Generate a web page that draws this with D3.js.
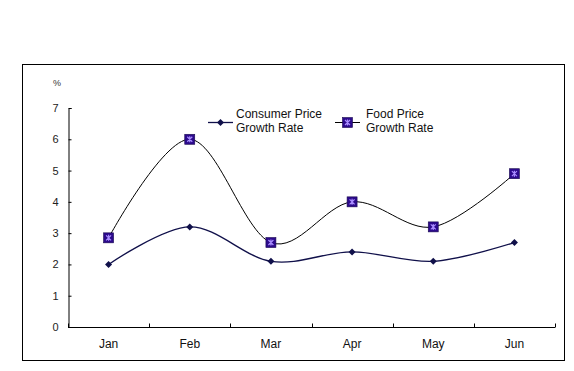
<!DOCTYPE html>
<html>
<head>
<meta charset="utf-8">
<script src="https://cdn.jsdelivr.net/npm/d3@7"></script>
<style>
  body { margin: 0; background: #fff; }
  text { font-family: "Liberation Sans", Arial, sans-serif; }
</style>
</head>
<body>
<div id="chart"></div>
<script>
const months = ['Jan', 'Feb', 'Mar', 'Apr', 'May', 'Jun'];
const consumerPrice = [2.0, 3.2, 2.1, 2.4, 2.1, 2.7];
const foodPrice = [2.85, 6.0, 2.7, 4.0, 3.2, 4.9];
const yTicks = [0, 1, 2, 3, 4, 5, 6, 7];

const width = 574, height = 371;
const plot = { left: 68, right: 555, top: 108, bottom: 327 };

const svg = d3.select('#chart').append('svg')
  .attr('width', width)
  .attr('height', height);

// outer frame
svg.append('rect')
  .attr('x', 22.5).attr('y', 64.5)
  .attr('width', 542).attr('height', 296)
  .attr('fill', 'none')
  .attr('stroke', '#000')
  .attr('stroke-width', 1);

const x = d3.scaleBand().domain(months).range([plot.left, plot.right]);
const y = d3.scaleLinear().domain([0, 7]).range([plot.bottom, plot.top]);
const cx = (m) => x(m) + x.bandwidth() / 2;

/* ---------- axes ---------- */
const yAxis = svg.append('g')
  .attr('transform', `translate(${plot.left + 0.5},0)`)
  .call(d3.axisLeft(y).tickValues(yTicks).tickSize(-3).tickPadding(10).tickFormat(d3.format('d')));
yAxis.select('.domain').attr('stroke', '#000');
yAxis.selectAll('.tick line').attr('stroke', '#000');
yAxis.selectAll('text').attr('font-size', 11).attr('fill', '#222');

const xAxis = svg.append('g')
  .attr('transform', `translate(0,${plot.bottom + 0.5})`);
xAxis.append('line')
  .attr('x1', plot.left).attr('x2', plot.right)
  .attr('stroke', '#000');
const edges = months.map((m) => x(m)).concat([plot.right]);
xAxis.selectAll('.xt').data(edges).enter().append('line')
  .attr('x1', (d) => Math.round(d) + 0.5).attr('x2', (d) => Math.round(d) + 0.5)
  .attr('y1', 0).attr('y2', -4)
  .attr('stroke', '#000');
xAxis.selectAll('.xl').data(months).enter().append('text')
  .attr('x', (d) => cx(d))
  .attr('y', 20)
  .attr('text-anchor', 'middle')
  .attr('font-size', 12)
  .attr('fill', '#111')
  .text((d) => d);

svg.append('text')
  .attr('x', 57).attr('y', 86)
  .attr('text-anchor', 'middle')
  .attr('font-size', 9)
  .attr('fill', '#333')
  .text('%');

/* ---------- series ---------- */
const line = d3.line()
  .x((d, i) => cx(months[i]))
  .y((d) => y(d))
  .curve(d3.curveCardinal.tension(0));

svg.append('path')
  .datum(foodPrice)
  .attr('d', line)
  .attr('fill', 'none')
  .attr('stroke', '#000')
  .attr('stroke-width', 1);

svg.append('path')
  .datum(consumerPrice)
  .attr('d', line)
  .attr('fill', 'none')
  .attr('stroke', '#10104a')
  .attr('stroke-width', 1.3);

function diamond(g, px, py) {
  g.append('path')
    .attr('d', `M${px},${py - 3.5}L${px + 3.5},${py}L${px},${py + 3.5}L${px - 3.5},${py}Z`)
    .attr('fill', '#10104a');
}
function square(g, px, py) {
  g.append('rect')
    .attr('x', px - 5).attr('y', py - 5)
    .attr('width', 10).attr('height', 10)
    .attr('fill', '#2c0a8c')
    .attr('stroke', '#1a0a50')
    .attr('stroke-width', 0.6);
  g.append('path')
    .attr('d', `M${px - 2.5},${py - 2.5}L${px + 2.5},${py + 2.5}M${px + 2.5},${py - 2.5}L${px - 2.5},${py + 2.5}M${px},${py - 3}L${px},${py + 3}`)
    .attr('stroke', '#a98cff')
    .attr('stroke-width', 1.2);
}

const mk = svg.append('g');
foodPrice.forEach((v, i) => square(mk, cx(months[i]), y(v)));
consumerPrice.forEach((v, i) => diamond(mk, cx(months[i]), y(v)));

/* ---------- legend ---------- */
const lg = svg.append('g');
lg.append('line').attr('x1', 208).attr('x2', 233).attr('y1', 122.5).attr('y2', 122.5)
  .attr('stroke', '#10104a').attr('stroke-width', 1.3);
diamond(lg, 220.5, 122.5);
lg.append('text').attr('x', 236).attr('y', 118).attr('font-size', 12).attr('fill', '#111').text('Consumer Price');
lg.append('text').attr('x', 236).attr('y', 132).attr('font-size', 12).attr('fill', '#111').text('Growth Rate');

lg.append('line').attr('x1', 335).attr('x2', 360).attr('y1', 122.5).attr('y2', 122.5)
  .attr('stroke', '#000').attr('stroke-width', 1);
square(lg, 347.5, 122.5);
lg.append('text').attr('x', 366).attr('y', 118).attr('font-size', 12).attr('fill', '#111').text('Food Price');
lg.append('text').attr('x', 366).attr('y', 132).attr('font-size', 12).attr('fill', '#111').text('Growth Rate');
</script>
</body>
</html>
